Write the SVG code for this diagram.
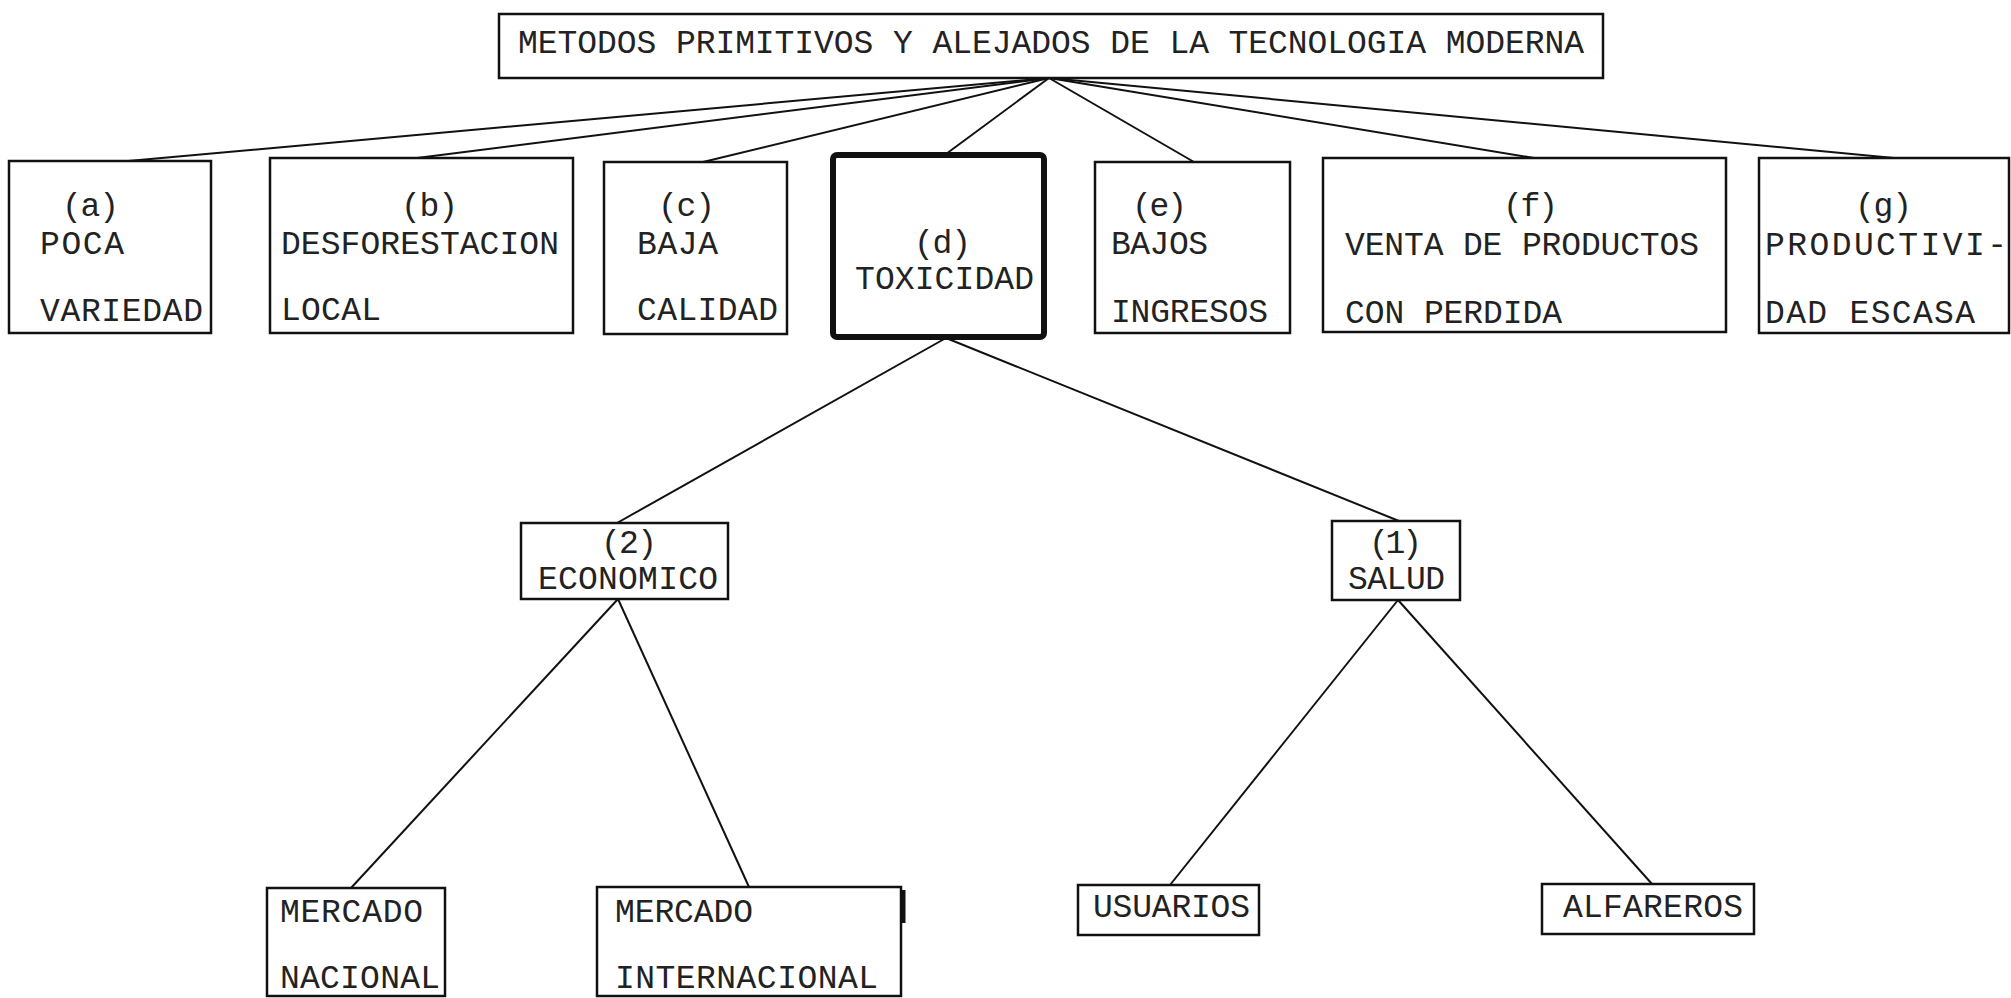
<svg xmlns="http://www.w3.org/2000/svg" width="2011" height="998" viewBox="0 0 2011 998">
<style>
.b{fill:#fff;stroke:#111;stroke-width:2.5}
.bd{fill:#fff;stroke:#111;stroke-width:6}
.c line{stroke:#111;stroke-width:2}
.t{font-family:"Liberation Mono","DejaVu Sans Mono",monospace;font-size:33px;fill:#222}
</style>
<rect width="2011" height="998" fill="#fff"/>
<g class="c" id="connectors">
<line x1="1049" y1="78" x2="117" y2="162"/>
<line x1="1049" y1="78" x2="417" y2="158"/>
<line x1="1049" y1="78" x2="703" y2="162"/>
<line x1="1049" y1="78" x2="946" y2="154"/>
<line x1="1049" y1="78" x2="1194" y2="162"/>
<line x1="1049" y1="78" x2="1534" y2="158"/>
<line x1="1049" y1="78" x2="1894" y2="158"/>
<line x1="946" y1="338" x2="617" y2="523"/>
<line x1="946" y1="338" x2="1399" y2="521"/>
<line x1="618" y1="599" x2="351" y2="888"/>
<line x1="618" y1="599" x2="749" y2="887"/>
<line x1="1398" y1="600" x2="1170" y2="885"/>
<line x1="1398" y1="600" x2="1652" y2="884"/>
</g>
<g id="root"><rect class="b" x="499" y="14" width="1104" height="64"/>
<text class="t" x="518" y="53" textLength="1066" lengthAdjust="spacing">METODOS PRIMITIVOS Y ALEJADOS DE LA TECNOLOGIA MODERNA</text></g>
<g id="a"><rect class="b" x="9" y="161" width="202" height="172"/>
<text class="t" x="62" y="216" textLength="57" lengthAdjust="spacing">(a)</text>
<text class="t" x="40" y="254" textLength="84" lengthAdjust="spacing">POCA</text>
<text class="t" x="40" y="321" textLength="163" lengthAdjust="spacing">VARIEDAD</text></g>
<g id="b"><rect class="b" x="270" y="158" width="303" height="175"/>
<text class="t" x="401" y="216" textLength="57" lengthAdjust="spacing">(b)</text>
<text class="t" x="281" y="254" textLength="278" lengthAdjust="spacing">DESFORESTACION</text>
<text class="t" x="281" y="320" textLength="100" lengthAdjust="spacing">LOCAL</text></g>
<g id="c"><rect class="b" x="604" y="162" width="183" height="172"/>
<text class="t" x="658" y="216" textLength="57" lengthAdjust="spacing">(c)</text>
<text class="t" x="637" y="254" textLength="81" lengthAdjust="spacing">BAJA</text>
<text class="t" x="637" y="320" textLength="141" lengthAdjust="spacing">CALIDAD</text></g>
<g id="d"><rect class="bd" x="833" y="155" width="211" height="182" rx="4"/>
<text class="t" x="914" y="253" textLength="57" lengthAdjust="spacing">(d)</text>
<text class="t" x="855" y="289" textLength="179" lengthAdjust="spacing">TOXICIDAD</text></g>
<g id="e"><rect class="b" x="1095" y="162" width="195" height="171"/>
<text class="t" x="1132" y="216" textLength="55" lengthAdjust="spacing">(e)</text>
<text class="t" x="1111" y="254" textLength="97" lengthAdjust="spacing">BAJOS</text>
<text class="t" x="1111" y="322" textLength="157" lengthAdjust="spacing">INGRESOS</text></g>
<g id="f"><rect class="b" x="1323" y="158" width="403" height="174"/>
<text class="t" x="1503" y="216" textLength="55" lengthAdjust="spacing">(f)</text>
<text class="t" x="1345" y="255" textLength="354" lengthAdjust="spacing">VENTA DE PRODUCTOS</text>
<text class="t" x="1345" y="323" textLength="217" lengthAdjust="spacing">CON PERDIDA</text></g>
<g id="g"><rect class="b" x="1759" y="158" width="250" height="175"/>
<text class="t" x="1855" y="216" textLength="57" lengthAdjust="spacing">(g)</text>
<text class="t" x="1765" y="255" textLength="242" lengthAdjust="spacing">PRODUCTIVI-</text>
<text class="t" x="1765" y="323" textLength="210" lengthAdjust="spacing">DAD ESCASA</text></g>
<g id="economico"><rect class="b" x="521" y="523" width="207" height="76"/>
<text class="t" x="601" y="553" textLength="56" lengthAdjust="spacing">(2)</text>
<text class="t" x="538" y="589" textLength="180" lengthAdjust="spacing">ECONOMICO</text></g>
<g id="salud"><rect class="b" x="1332" y="521" width="128" height="79"/>
<text class="t" x="1369" y="553" textLength="53" lengthAdjust="spacing">(1)</text>
<text class="t" x="1348" y="589" textLength="97" lengthAdjust="spacing">SALUD</text></g>
<g id="nacional"><rect class="b" x="267" y="888" width="178" height="108"/>
<text class="t" x="280" y="922" textLength="143" lengthAdjust="spacing">MERCADO</text>
<text class="t" x="280" y="988" textLength="160" lengthAdjust="spacing">NACIONAL</text></g>
<g id="internacional"><rect class="b" x="597" y="887" width="304" height="109"/>
<line x1="903" y1="890" x2="903" y2="923" stroke="#111" stroke-width="5"/>
<text class="t" x="615" y="922" textLength="138" lengthAdjust="spacing">MERCADO</text>
<text class="t" x="615" y="988" textLength="263" lengthAdjust="spacing">INTERNACIONAL</text></g>
<g id="usuarios"><rect class="b" x="1078" y="885" width="181" height="50"/>
<text class="t" x="1093" y="917" textLength="157" lengthAdjust="spacing">USUARIOS</text></g>
<g id="alfareros"><rect class="b" x="1542" y="884" width="212" height="50"/>
<text class="t" x="1563" y="917" textLength="180" lengthAdjust="spacing">ALFAREROS</text></g>
</svg>
